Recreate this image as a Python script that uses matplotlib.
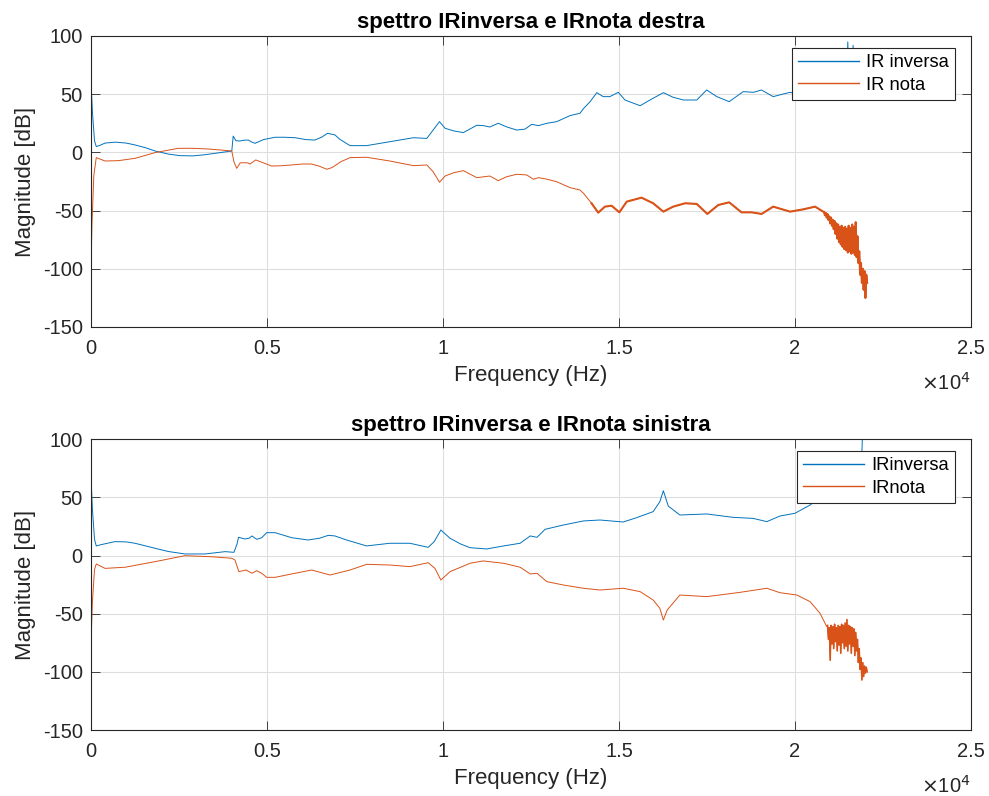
import numpy as np
import matplotlib
matplotlib.use('Agg')
import matplotlib.pyplot as plt

plt.rcParams['font.family'] = ['Liberation Sans', 'DejaVu Sans']
plt.rcParams['axes.unicode_minus'] = False

# --- right channel (destra): main curves, Hz / dB ---
dx_blue_f = [0, 40, 100, 150, 250, 400, 700, 1000, 1250, 1550, 1820, 2200, 2530, 2900, 3240, 3600,
             4000, 4040, 4120, 4230, 4350, 4470, 4560, 4660, 4900, 5230, 5500, 5800, 6100, 6360, 6550,
             6720, 6930, 7070, 7360, 7830, 8490, 9160, 9540, 9720, 9900, 10060, 10300, 10580, 10960,
             11150, 11330, 11570, 11800, 12090, 12330, 12520, 12710, 12950, 13230, 13610, 13890, 14000,
             14180, 14370, 14550, 14740, 14980, 15170, 15600, 15880, 16260, 16540, 16830, 17210, 17490,
             17780, 18130, 18530, 18820, 19050, 19380, 19670, 19860, 20240, 20570, 20800]
dx_blue_v = [62, 35, 10, 5, 6, 8, 8.8, 8, 6.4, 4, 1.2, -1.5, -2.8, -3, -2, -0.5,
             1.2, 14, 10, 9.8, 10.5, 10.6, 9, 7.8, 11, 13, 13, 12.6, 11, 10.6, 13,
             16.4, 15, 11.2, 5.8, 5.8, 9.2, 12.6, 12, 19.2, 26.4, 20.7, 18.5, 17, 23.3,
             23, 21.8, 25, 22, 19.2, 20, 24.1, 23, 25, 26.4, 31.6, 33.6, 37.9,
             43.6, 51.3, 47.9, 47.9, 51.6, 45, 40.1, 45, 51.3, 47.3, 45, 45, 53.6,
             47.9, 43.6, 52.2, 51.6, 53.6, 47.9, 50.2, 51.6, 49, 47, 51]

dx_red_f = [0, 30, 80, 150, 400, 780, 1250, 1820, 2480, 2900, 3330, 3700, 4000, 4060, 4140, 4240,
            4330, 4450, 4520, 4680, 4900, 5130, 5400, 5700, 6000, 6270, 6500, 6700, 6850, 7100, 7360,
            7830, 8490, 9160, 9540, 9720, 9900, 10060, 10300, 10580, 10960, 11150, 11330, 11570, 11800,
            12090, 12380, 12570, 12710, 12950, 13230, 13610, 13890, 13990, 14220, 14410, 14600, 14790,
            15010, 15220, 15640, 15970, 16260, 16540, 16880, 17210, 17510, 17820, 18130, 18480, 18770,
            19050, 19380, 19860, 20240, 20570, 20800]
dx_red_v = [-98, -60, -20, -4.5, -7.4, -7.1, -5.1, -0.2, 3.5, 3.5, 2.9, 2, 1.2, -8, -13.7, -9,
            -8.9, -9, -10, -6.5, -9, -11.7, -11.5, -10.8, -10, -10, -12, -14.5, -13, -8, -4.5,
            -4.2, -7.4, -11.4, -10.8, -16.6, -25.7, -20.3, -17.5, -15.7, -21.7, -21, -20.3, -24.3, -21,
            -18.8, -19.4, -23.1, -21.7, -23, -25.2, -30.3, -32.3, -35.1, -43.7, -51.8, -46.6, -45.8,
            -51.5, -42.3, -38.9, -43.7, -50.9, -46.6, -43.7, -44.3, -52.9, -45.2, -42.9, -51.5, -51.5,
            -52.9, -46.6, -50.9, -48.9, -46.6, -50.9]

# noisy high-frequency tails (right), sampled 20825..22050 Hz
dx_tail_red = [-51, -54, -52, -56, -53, -58, -55, -61, -56, -63, -58, -66, -59, -70, -61, -74, -62,
               -77, -64, -79, -63, -81, -65, -83, -64, -84, -66, -86, -63, -85, -65, -87, -62, -86,
               -64, -88, -60, -90, -72, -95, -85, -105, -95, -112, -100, -118, -102, -125, -105, -112]
dx_tail_blue = [51, 54, 52, 56, 53, 58, 55, 61, 56, 63, 58, 66, 59, 70, 61, 74, 62,
                77, 64, 79, 63, 81, 65, 83, 64, 84, 66, 95, 63, 85, 65, 87, 62, 92,
                64, 88, 60, 86, 72, 85, 80, 87, 78, 86, 80, 88, 82, 87, 80, 84]

# --- left channel (sinistra) ---
sx_blue_f = [0, 40, 100, 150, 300, 680, 1000, 1250, 1820, 2200, 2670, 3240, 3810, 4060, 4150, 4190,
             4380, 4500, 4570, 4710, 4850, 4990, 5230, 5700, 6170, 6500, 6740, 6930, 7260, 7830, 8490,
             9060, 9580, 9750, 9940, 10200, 10500, 10770, 11240, 11720, 12190, 12480, 12670, 12900,
             13420, 13990, 14460, 15120, 15500, 15970, 16160, 16260, 16400, 16730, 17490, 18240, 18810,
             19200, 19570, 20000, 20430, 20710, 20900]
sx_blue_v = [68, 40, 14, 8.3, 9.5, 12, 11.8, 10.6, 6.3, 3.5, 1.4, 1.4, 3.4, 2.8, 10, 15.7,
             14.3, 15, 16.9, 14, 15.4, 19.7, 19.7, 15.4, 13.4, 15, 17.4, 16.9, 13.4, 8.3, 10.6,
             10.6, 7.1, 12, 22, 14.9, 10, 6.8, 5.7, 8.3, 10.6, 16.9, 15.7, 22.6,
             26.3, 29.8, 30.6, 28.9, 32.6, 37.8, 46.3, 55.8, 42.6, 34.9, 35.8, 32.9, 32,
             29.2, 34, 36.4, 43.5, 50, 61]

sx_red_f = [0, 40, 100, 150, 400, 970, 1820, 2670, 3430, 4000, 4090, 4200, 4410, 4570, 4710, 4850,
            4990, 5230, 5700, 6270, 6790, 7360, 7830, 8490, 9060, 9580, 9770, 9940, 10200, 10770,
            11140, 11720, 12190, 12480, 12670, 12950, 13420, 13990, 14460, 15120, 15600, 15970, 16160,
            16260, 16370, 16730, 17490, 18440, 19200, 19570, 20050, 20430, 20710, 20900]
sx_red_v = [-75.4, -40, -12, -7.2, -11, -10, -5.2, -0.1, -1, -2.3, -3.8, -13.8, -12.4, -15.2, -13, -15.2,
            -18.7, -18.7, -15.8, -12.4, -16.7, -12.4, -7.5, -8.1, -9.5, -6.1, -11, -21, -13.8, -6.6,
            -4.6, -6.6, -10, -15.8, -15.2, -22.4, -25.3, -28.1, -29.6, -28.1, -31, -38.2, -45.3,
            -55.4, -46.8, -33.9, -35.3, -31.6, -28.1, -31.9, -33.9, -39.6, -49.6, -61]

# noisy tails (left), sampled 20925..22050 Hz
sx_tail_red = [-60, -72, -62, -90, -60, -76, -61, -80, -59, -74, -62, -82, -60, -77, -61, -84, -59,
               -75, -60, -80, -58, -78, -55, -82, -60, -76, -61, -84, -62, -78, -63, -86, -66, -82,
               -72, -92, -80, -98, -88, -107, -92, -104, -95, -101, -96, -100]
sx_tail_blue = [60, 72, 62, 86, 60, 76, 61, 80, 59, 74, 62, 82, 60, 77, 61, 84, 59,
                75, 60, 80, 58, 78, 55, 82, 60, 76, 61, 84, 62, 78, 63, 86, 66, 82,
                72, 85, 80, 88, 84, 88, 112, 118, 110, 125, 115, 120]

titles = ['spettro IRinversa e IRnota destra', 'spettro IRinversa e IRnota sinistra']
legends = [['IR inversa', 'IR nota'], ['IRinversa', 'IRnota']]
xtick_vals = [0, 5000, 10000, 15000, 20000, 25000]
xtick_lbls = ['0', '0.5', '1', '1.5', '2', '2.5']
ytick_vals = [-150, -100, -50, 0, 50, 100]

BLUE = '#0072BD'
RED = '#D95319'
TXT = '#262626'

fig = plt.figure(figsize=(9.89, 7.96), dpi=100)
ax_top = fig.add_axes([0.092, 0.5892, 0.8898, 0.3656])
ax_bot = fig.add_axes([0.092, 0.0829, 0.8898, 0.3652])

panels = [
    (ax_top, dx_blue_f, dx_blue_v, dx_tail_blue, dx_red_f, dx_red_v, dx_tail_red, 20825),
    (ax_bot, sx_blue_f, sx_blue_v, sx_tail_blue, sx_red_f, sx_red_v, sx_tail_red, 20925),
]

for k, (ax, bf, bv, bt, rf, rv, rt, t0) in enumerate(panels):
    tail_f = np.linspace(t0, 22050, len(rt))
    bf_all = np.concatenate([bf, tail_f])
    bv_all = np.concatenate([bv, bt])
    rf_all = np.concatenate([rf, tail_f])
    rv_all = np.concatenate([rv, rt])

    hb, = ax.plot(bf_all, bv_all, color=BLUE, lw=0.7)
    hr, = ax.plot(rf_all, rv_all, color=RED, lw=0.7)
    # the red curve is visibly thicker (noisy) above ~14 kHz in the right channel
    if k == 0:
        m = rf_all >= 14200
        ax.plot(rf_all[m], rv_all[m], color=RED, lw=1.5, solid_joinstyle='round')
    ax.plot(tail_f, rt, color=RED, lw=1.1)

    ax.set_xlim(0, 25000)
    ax.set_ylim(-150, 100)
    ax.set_xticks(xtick_vals)
    ax.set_xticklabels(xtick_lbls)
    ax.set_yticks(ytick_vals)
    ax.tick_params(direction='in', length=6.3, width=0.6, top=True, right=True,
                   labelsize=14.5, colors=TXT)
    ax.tick_params(axis='x', pad=8.5)
    ax.tick_params(axis='y', pad=6)
    ax.grid(True, color='#dedede', lw=0.8)
    ax.set_axisbelow(True)
    for s in ax.spines.values():
        s.set_color(TXT)
        s.set_linewidth(0.8)
    ax.set_title(titles[k], fontsize=16, fontweight='bold', pad=6)
    ax.set_xlabel('Frequency (Hz)', fontsize=16, color=TXT, labelpad=5)
    ax.set_ylabel('Magnitude [dB]', fontsize=16, color=TXT, labelpad=5)
    ax.text(1.0, -0.215, r'$\times$10$^4$', transform=ax.transAxes, ha='right', va='baseline',
            fontsize=14.5, color=TXT)

    leg = ax.legend([hb, hr], legends[k], loc='upper right', fontsize=13.2,
                    bbox_to_anchor=(0.982, 0.96), frameon=True, fancybox=False,
                    handlelength=3.3, handletextpad=0.4, borderpad=0.35, labelspacing=0.3,
                    borderaxespad=0.0)
    leg.get_frame().set_edgecolor(TXT)
    leg.get_frame().set_linewidth(0.8)
    leg.get_frame().set_alpha(1.0)
    for ln in leg.get_lines():
        ln.set_linewidth(1.0)

fig.savefig('out.png', dpi=100, facecolor='white')
